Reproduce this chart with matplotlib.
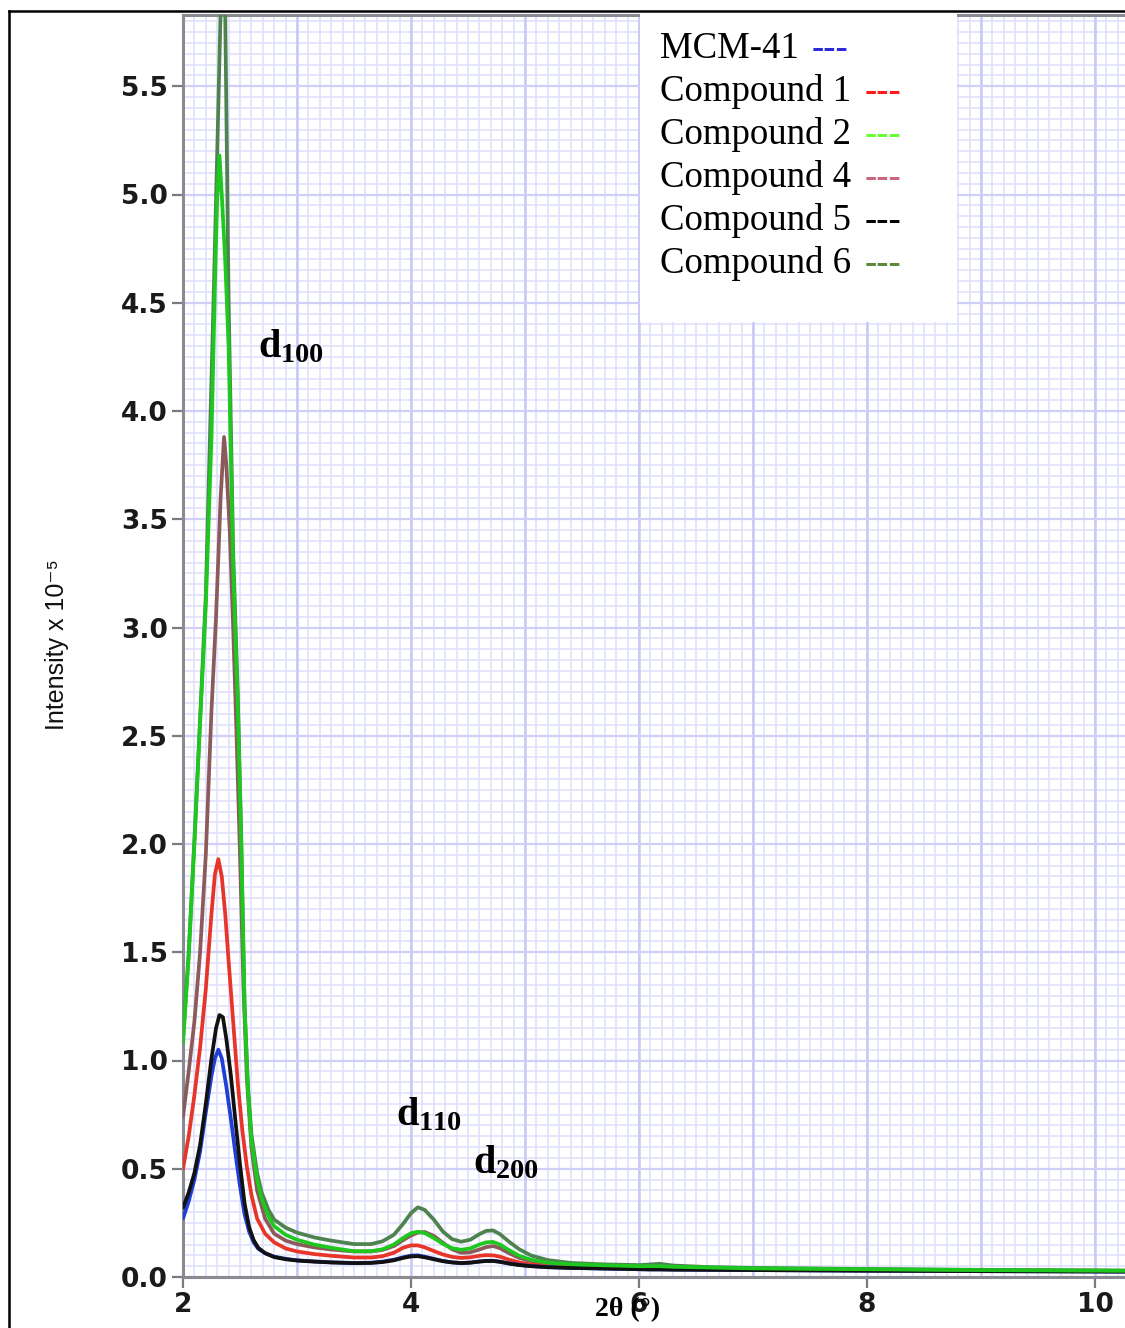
import numpy as np
import matplotlib
matplotlib.use("Agg")
import matplotlib.pyplot as plt
from matplotlib.patches import Rectangle
from matplotlib.lines import Line2D

plt.rcParams['mathtext.fontset'] = 'custom'
plt.rcParams['mathtext.rm'] = 'Liberation Serif:bold'
plt.rcParams['mathtext.it'] = 'Liberation Serif:bold'
plt.rcParams['mathtext.bf'] = 'Liberation Serif:bold'

# ---------------- data ----------------
tail_x = [2.80, 2.90, 3.00, 3.15, 3.30, 3.50, 3.65, 3.75, 3.85, 3.93, 4.00, 4.06, 4.12,
          4.20, 4.28, 4.36, 4.44, 4.52, 4.60, 4.66, 4.72, 4.78, 4.86, 4.95, 5.05, 5.20,
          5.40, 5.70, 6.00, 6.10, 6.18, 6.30, 6.60, 7.00, 8.00, 9.00, 10.26]

mcm_x_peak = [2.00, 2.05, 2.10, 2.15, 2.20, 2.25, 2.28, 2.31, 2.34, 2.38, 2.42, 2.46, 2.50,
              2.54, 2.58, 2.62, 2.66, 2.72]
mcm_y_peak = [0.27, 0.35, 0.45, 0.58, 0.76, 0.93, 1.01, 1.05, 1.01, 0.88, 0.73, 0.57, 0.42,
              0.29, 0.21, 0.16, 0.13, 0.11]
mcm_y_tail = [0.094, 0.084, 0.077, 0.072, 0.068, 0.065, 0.066, 0.071, 0.080, 0.091, 0.099,
              0.100, 0.094, 0.084, 0.074, 0.068, 0.065, 0.067, 0.072, 0.075, 0.075, 0.071,
              0.063, 0.056, 0.051, 0.046, 0.042, 0.039, 0.036, 0.035, 0.035, 0.034, 0.033,
              0.032, 0.029, 0.027, 0.025]

c5_x_peak = [2.00, 2.05, 2.10, 2.15, 2.20, 2.25, 2.29, 2.32, 2.35, 2.38, 2.42, 2.46, 2.50,
             2.54, 2.58, 2.62, 2.66, 2.72]
c5_y_peak = [0.32, 0.39, 0.48, 0.61, 0.80, 1.01, 1.15, 1.21, 1.20, 1.10, 0.93, 0.72, 0.52,
             0.34, 0.23, 0.17, 0.135, 0.11]
c5_y_tail = [0.092, 0.082, 0.076, 0.071, 0.067, 0.064, 0.065, 0.069, 0.077, 0.088, 0.095,
             0.096, 0.091, 0.082, 0.073, 0.067, 0.064, 0.066, 0.071, 0.074, 0.074, 0.070,
             0.062, 0.055, 0.050, 0.045, 0.042, 0.039, 0.036, 0.035, 0.035, 0.034, 0.033,
             0.032, 0.029, 0.027, 0.025]

c1_x_peak = [2.00, 2.05, 2.10, 2.15, 2.20, 2.25, 2.28, 2.31, 2.34, 2.37, 2.40, 2.44, 2.48,
             2.52, 2.56, 2.60, 2.65, 2.72]
c1_y_peak = [0.50, 0.65, 0.84, 1.06, 1.33, 1.68, 1.86, 1.93, 1.85, 1.68, 1.46, 1.18, 0.90,
             0.68, 0.51, 0.38, 0.27, 0.20]
c1_y_tail = [0.160, 0.132, 0.118, 0.106, 0.098, 0.090, 0.090, 0.096, 0.112, 0.135, 0.146,
             0.146, 0.137, 0.120, 0.104, 0.093, 0.088, 0.091, 0.098, 0.101, 0.100, 0.094,
             0.080, 0.067, 0.058, 0.051, 0.047, 0.043, 0.040, 0.039, 0.039, 0.038, 0.036,
             0.034, 0.031, 0.029, 0.026]

c4_x_peak = [2.00, 2.05, 2.10, 2.15, 2.20, 2.25, 2.29, 2.33, 2.36, 2.38, 2.41, 2.44, 2.47,
             2.50, 2.53, 2.56, 2.60, 2.65, 2.72]
c4_y_peak = [0.74, 0.95, 1.18, 1.50, 1.95, 2.62, 3.05, 3.60, 3.88, 3.75, 3.45, 3.00, 2.50,
             1.95, 1.35, 0.92, 0.60, 0.40, 0.27]
c4_y_tail = [0.200, 0.168, 0.152, 0.137, 0.127, 0.118, 0.118, 0.125, 0.143, 0.170, 0.192,
             0.205, 0.208, 0.190, 0.158, 0.128, 0.112, 0.114, 0.127, 0.138, 0.143, 0.133,
             0.110, 0.088, 0.074, 0.062, 0.055, 0.050, 0.046, 0.045, 0.045, 0.043, 0.041,
             0.038, 0.034, 0.031, 0.028]

c6_x_peak = [2.00, 2.05, 2.10, 2.15, 2.20, 2.24, 2.27, 2.30, 2.33, 2.35, 2.37, 2.385, 2.40,
             2.44, 2.48, 2.51, 2.54, 2.57, 2.60, 2.65, 2.69, 2.75]
c6_y_peak = [1.10, 1.50, 2.02, 2.58, 3.15, 3.95, 4.55, 5.19, 5.85, 6.05, 5.85, 5.19, 4.51,
             3.35, 2.70, 2.05, 1.25, 0.88, 0.66, 0.48, 0.39, 0.31]
c6_y_tail = [0.265, 0.228, 0.205, 0.183, 0.168, 0.152, 0.152, 0.165, 0.195, 0.245, 0.295,
             0.322, 0.310, 0.265, 0.210, 0.175, 0.163, 0.172, 0.198, 0.213, 0.215, 0.198,
             0.163, 0.128, 0.100, 0.078, 0.065, 0.058, 0.055, 0.058, 0.061, 0.053, 0.046,
             0.042, 0.037, 0.033, 0.030]

c2_x_peak = [2.00, 2.05, 2.10, 2.15, 2.20, 2.25, 2.28, 2.30, 2.32, 2.34, 2.37, 2.40, 2.44,
             2.48, 2.51, 2.54, 2.57, 2.60, 2.65, 2.69, 2.75]
c2_y_peak = [1.08, 1.48, 2.00, 2.56, 3.10, 3.88, 4.58, 4.98, 5.18, 5.00, 4.70, 4.30, 3.28,
             2.65, 2.02, 1.25, 0.86, 0.63, 0.45, 0.36, 0.28]
c2_y_tail = [0.235, 0.195, 0.172, 0.150, 0.135, 0.119, 0.119, 0.128, 0.150, 0.180, 0.202,
             0.209, 0.203, 0.180, 0.153, 0.133, 0.126, 0.132, 0.150, 0.160, 0.162, 0.150,
             0.124, 0.098, 0.080, 0.066, 0.059, 0.054, 0.050, 0.050, 0.050, 0.047, 0.044,
             0.040, 0.036, 0.032, 0.029]

series_names = ["MCM-41", "Compound 1", "Compound 2", "Compound 4", "Compound 5", "Compound 6"]
line_colors = {"MCM-41": "#1f3fd6", "Compound 1": "#e8352a", "Compound 2": "#1ec81e",
               "Compound 4": "#8c5a5a", "Compound 5": "#111111", "Compound 6": "#4e8350"}
legend_dash_colors = ["#2b2bdd", "#ff1a1a", "#66ff33", "#cc6680", "#000000", "#5a8a3a"]

x_ticks = [2, 4, 6, 8, 10]
y_ticks = [0.0, 0.5, 1.0, 1.5, 2.0, 2.5, 3.0, 3.5, 4.0, 4.5, 5.0, 5.5]

# ---------------- figure ----------------
W, H = 1125, 1328
fig = plt.figure(figsize=(W / 100, H / 100), dpi=100)
fig.patch.set_facecolor("white")

def fx(px):
    return px / W

def fy(py):
    return 1 - py / H

ax_left, ax_right, ax_top, ax_bottom = 183, 1125, 15, 1277
ax = fig.add_axes([fx(ax_left), fy(ax_bottom), fx(ax_right - ax_left), (ax_bottom - ax_top) / H])
x_min = 2.0
x_max = 2.0 + (ax_right - ax_left) / 114.0
y_max = (ax_bottom - ax_top) / 216.5
ax.set_xlim(x_min, x_max)
ax.set_ylim(0, y_max)

# grid
for gx in np.arange(2.0, 10.3, 0.1):
    ax.axvline(gx, color="#e0e0fb", lw=1.2, zorder=0)
for gy in np.arange(0.0, 5.85, 0.05):
    ax.axhline(gy, color="#e0e0fb", lw=1.2, zorder=0)
for gx in np.arange(2.0, 10.3, 1.0):
    ax.axvline(gx, color="#c8c8f6", lw=1.8, zorder=0)
for gy in np.arange(0.0, 5.85, 0.5):
    ax.axhline(gy, color="#cfcff8", lw=1.6, zorder=0)

def full(xp, yp, yt):
    return list(xp) + tail_x, list(yp) + list(yt)

data = {
    "MCM-41": full(mcm_x_peak, mcm_y_peak, mcm_y_tail),
    "Compound 1": full(c1_x_peak, c1_y_peak, c1_y_tail),
    "Compound 2": full(c2_x_peak, c2_y_peak, c2_y_tail),
    "Compound 4": full(c4_x_peak, c4_y_peak, c4_y_tail),
    "Compound 5": full(c5_x_peak, c5_y_peak, c5_y_tail),
    "Compound 6": full(c6_x_peak, c6_y_peak, c6_y_tail),
}
draw_order = ["Compound 4", "Compound 1", "MCM-41", "Compound 5", "Compound 6", "Compound 2"]
for name in draw_order:
    xs, ys = data[name]
    ax.plot(xs, ys, color=line_colors[name], lw=2.7, solid_joinstyle="round",
            solid_capstyle="round", zorder=3)

# spines and ticks
for s in ["left", "bottom", "top"]:
    ax.spines[s].set_color("#8a8a92")
    ax.spines[s].set_linewidth(2.2)
ax.spines["right"].set_visible(False)
ax.set_xticks(x_ticks)
ax.set_yticks(y_ticks)
ax.set_xticklabels([str(t) for t in x_ticks])
ax.set_yticklabels([f"{t:.1f}" for t in y_ticks])
ax.tick_params(axis="both", direction="out", length=8, width=1.6, color="#7a7a80",
               labelsize=19, labelcolor="#1a1a1a", pad=3)
for lab in ax.get_xticklabels() + ax.get_yticklabels():
    lab.set_fontfamily("DejaVu Sans")
    lab.set_fontweight("bold")

# annotations
ax.text(2.66, 4.25, r"$\mathrm{d}_{100}$", fontsize=29, color="black", zorder=5)
ax.text(3.87, 0.70, r"$\mathrm{d}_{110}$", fontsize=29, color="black", zorder=5)
ax.text(4.54, 0.48, r"$\mathrm{d}_{200}$", fontsize=29, color="black", zorder=5)

# axis labels
fig.text(fx(628), fy(1310), "2θ (°)", fontsize=20, fontweight="bold",
         family=["Liberation Serif", "DejaVu Serif"], ha="center", va="center")
fig.text(fx(57), fy(645), "Intensity x 10⁻⁵", fontsize=18, rotation=90,
         family=["Liberation Sans", "DejaVu Sans"], ha="center", va="center", color="#111111")

# legend box (white, no border)
fig.add_artist(Rectangle((fx(640), fy(322)), fx(957 - 640), (322 - 13) / H,
                         transform=fig.transFigure, facecolor="white", edgecolor="none",
                         zorder=4))
row_baselines = [58, 101, 144, 187, 230, 273]
dash_x = [812, 865, 865, 865, 865, 865]
for name, base, dx, dc in zip(series_names, row_baselines, dash_x, legend_dash_colors):
    fig.text(fx(660), fy(base), name, fontsize=26.5, family="Liberation Serif",
             ha="left", va="baseline", color="black", zorder=5)
    fig.text(fx(dx), fy(base), "---", fontsize=26.5, family="Liberation Serif",
             fontweight="bold", ha="left", va="baseline", color=dc, zorder=5)

# outer frame
fig.add_artist(Line2D([fx(9), fx(9)], [fy(11), 0], transform=fig.transFigure,
                      color="black", lw=1.8))
fig.add_artist(Line2D([fx(9), 1], [fy(11), fy(11)], transform=fig.transFigure,
                      color="black", lw=1.8))

fig.savefig("out.png", dpi=100, facecolor="white")
